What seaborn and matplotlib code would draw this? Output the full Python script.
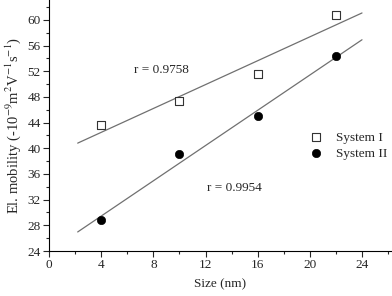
import matplotlib
matplotlib.use("Agg")
import matplotlib.pyplot as plt
from matplotlib.ticker import MultipleLocator
import numpy as np
import pandas as pd
import seaborn as sns

size_nm = [4, 10, 16, 22]
system_1 = [43.6, 47.4, 51.6, 60.8]
system_2 = [28.8, 39.1, 45.0, 54.3]
r_values = ["r = 0.9758", "r = 0.9954"]
fit_range = [2.2, 24]

sns.set_style("ticks")
plt.rcParams["font.family"] = ["Liberation Serif", "DejaVu Serif"]
plt.rcParams["mathtext.fontset"] = "stix"

df = pd.DataFrame({"size": size_nm, "s1": system_1, "s2": system_2})

fig = plt.figure(figsize=(3.92, 2.96), dpi=100)
ax = fig.add_axes([0.125, 0.152, 0.875, 0.848])

# linear fits
xs = np.array(fit_range)
for col in ["s1", "s2"]:
    k, b = np.polyfit(df["size"], df[col], 1)
    sns.lineplot(x=xs, y=k * xs + b, ax=ax, color="#707070", linewidth=0.9)

sns.scatterplot(data=df, x="size", y="s1", ax=ax, marker="s", s=28,
                facecolor="white", edgecolor="#333333", linewidth=0.8,
                label="System I", zorder=3)
sns.scatterplot(data=df, x="size", y="s2", ax=ax, marker="o", s=36,
                color="black", edgecolor="black", label="System II", zorder=3)

ax.text(6.5, 52.2, r_values[0], fontsize=9.5, va="center")
ax.text(12.1, 33.8, r_values[1], fontsize=9.5, va="center")

ax.set_xlim(0, 26.3)
ax.set_ylim(24, 63.1)
ax.xaxis.set_major_locator(MultipleLocator(4))
ax.xaxis.set_minor_locator(MultipleLocator(2))
ax.yaxis.set_major_locator(MultipleLocator(4))
ax.yaxis.set_minor_locator(MultipleLocator(2))
ax.tick_params(which="major", length=4, width=0.8, labelsize=9.5, pad=2)
ax.tick_params(which="minor", length=2, width=0.8)
sns.despine(ax=ax)
for sp in ["left", "bottom"]:
    ax.spines[sp].set_linewidth(0.8)
    ax.spines[sp].set_color("black")

ax.set_xlabel("Size (nm)", fontsize=9.5, labelpad=5)
ax.set_ylabel("El. mobility (-10$^{-9}$m$^{2}$V$^{-1}$s$^{-1}$)", fontsize=10.5, labelpad=3)

ax.legend(loc="center left", bbox_to_anchor=(0.72, 0.42), frameon=False,
          fontsize=9.5, handlelength=1.2, handletextpad=0.9, labelspacing=0.3)

plt.savefig("out.png", dpi=100)
